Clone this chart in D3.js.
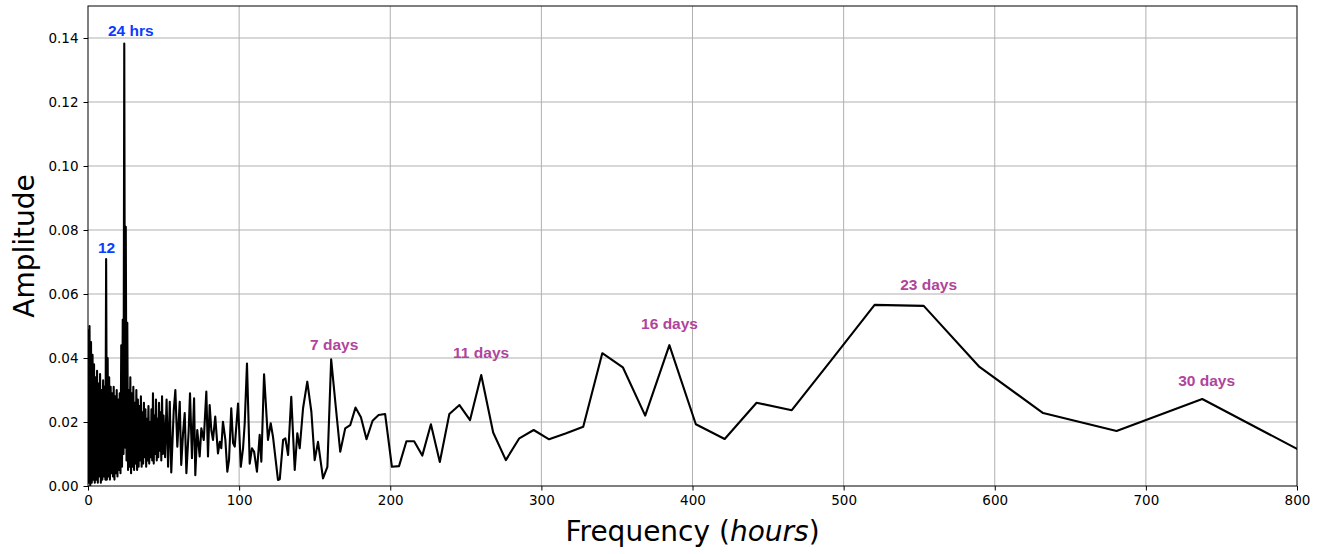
<!DOCTYPE html>
<html lang="en">
<head>
<meta charset="UTF-8">
<title>Amplitude spectrum</title>
<script src="https://d3js.org/d3.v7.min.js"></script>
<style>
  body { margin: 0; background: #fff; }
  svg { display: block; }
  .tick text { font-family: "DejaVu Sans", sans-serif; font-size: 13.5px; fill: #000; }
  .grid line { stroke: #b0b0b0; stroke-width: 1; }
  .axis-title { font-family: "DejaVu Sans", sans-serif; font-size: 28px; fill: #000; }
  .note { font-family: "Liberation Sans", Arial, sans-serif; font-weight: bold; font-size: 15.5px; }
</style>
</head>
<body>
<script>
// dense part of the spectrum (0-50 hrs): amplitudes every half hour
const denseStep = 0.5;
const denseAmp = [
  0.049, 0.001, 0.050, 0.000, 0.045, 0.001, 0.041, 0.002, 0.038, 0.001,
  0.034, 0.002, 0.036, 0.001, 0.032, 0.003, 0.035, 0.001, 0.030, 0.002,
  0.033, 0.003, 0.031, 0.002, 0.0709, 0.002, 0.040, 0.003, 0.034, 0.002,
  0.031, 0.004, 0.029, 0.003, 0.031, 0.002, 0.028, 0.004, 0.030, 0.003,
  0.027, 0.005, 0.029, 0.004, 0.044, 0.006, 0.052, 0.010, 0.1383, 0.012,
  0.081, 0.008, 0.051, 0.005, 0.030, 0.006, 0.034, 0.004, 0.029, 0.006,
  0.031, 0.005, 0.026, 0.007, 0.030, 0.005, 0.027, 0.006, 0.025, 0.008,
  0.028, 0.006, 0.023, 0.007, 0.026, 0.009, 0.024, 0.006, 0.021, 0.008,
  0.025, 0.007, 0.020, 0.009, 0.024, 0.008, 0.029, 0.007, 0.022, 0.010,
  0.027, 0.008, 0.021, 0.009, 0.026, 0.011, 0.023, 0.008, 0.028, 0.010,
  0.022
];

// sparser part (hours, amplitude)
const periods = [
  51.0, 52.0, 53.0, 54.1, 55.1, 56.7, 57.8, 59.1, 60.7, 61.7, 62.9, 64.0, 65.1, 66.6, 67.5,
  68.8, 70.2, 71.0, 72.3, 73.9, 75.0, 76.6, 78.3, 79.4, 80.5, 81.6, 82.7, 84.2, 86.0, 87.2,
  88.2, 89.3, 90.9, 92.2, 93.3, 94.8, 96.0, 97.1, 99.3, 101.1, 102.6, 103.7, 105.2,
  107.0, 108.5, 109.9, 111.8, 113.6, 114.7, 116.5, 119.1, 120.9, 122.4, 125.7, 126.9,
  129.1, 130.6, 132.4, 134.5, 136.8, 138.5, 140.1, 142.3, 145.1, 147.8, 150.0, 152.2,
  155.5, 158.4, 160.9, 163.9, 166.9, 170.2, 173.5, 177.0, 180.6, 184.3, 188.3, 192.3,
  196.6, 201.1, 205.8, 210.7, 215.8, 221.2, 226.9, 232.8, 239.1, 245.8, 252.8, 260.2,
  268.1, 276.5, 285.4, 294.9, 305.1, 316.0, 327.7, 340.3, 353.9, 368.7, 384.7, 402.2,
  421.3, 442.4, 465.7, 491.6, 520.5, 553.0, 589.9, 632.0, 680.6, 737.3, 804.4
];
const amplitudes = [
  0.009, 0.027, 0.006, 0.0263, 0.0042, 0.0233, 0.030, 0.0123, 0.0263, 0.0066, 0.0165, 0.0228, 0.004, 0.017, 0.029,
  0.0087, 0.0274, 0.0034, 0.0175, 0.0092, 0.018, 0.0144, 0.0295, 0.0092, 0.0253, 0.0175, 0.0144, 0.0217, 0.0102, 0.0138,
  0.0118, 0.0201, 0.0144, 0.0045, 0.0081, 0.0243, 0.0134, 0.0123, 0.0258, 0.006, 0.0118, 0.0196, 0.0383,
  0.007, 0.0118, 0.0107, 0.0045, 0.016, 0.0076, 0.0349, 0.0144, 0.0196, 0.0154, 0.0019, 0.0021,
  0.0144, 0.0149, 0.0097, 0.0279, 0.005, 0.0165, 0.0118, 0.0243, 0.0326, 0.0232, 0.0081, 0.0138,
  0.0024, 0.006, 0.0396, 0.025, 0.0107, 0.018, 0.019, 0.0245, 0.0215, 0.0146, 0.0204, 0.0222,
  0.0225, 0.006, 0.0062, 0.014, 0.014, 0.0095, 0.0193, 0.0075, 0.0225, 0.0253, 0.0206, 0.0347,
  0.0167, 0.0081, 0.0149, 0.0175, 0.0146, 0.0164, 0.0185, 0.0415, 0.0371, 0.022, 0.044, 0.0193,
  0.0147, 0.026, 0.0237, 0.0392, 0.0566, 0.0563, 0.0372, 0.0228, 0.0172, 0.0272, 0.0105
];

const xTicks = [0, 100, 200, 300, 400, 500, 600, 700, 800];
const yTicks = [0, 0.02, 0.04, 0.06, 0.08, 0.10, 0.12, 0.14];

// annotations: [text, hours, amplitude, colour]
const notes = [
  ["24 hrs", 13.2, 0.1406, "#0a3cff"],
  ["12", 6.6, 0.0728, "#0a3cff"],
  ["7 days", 146.9, 0.0425, "#b0449c"],
  ["11 days", 241.6, 0.0400, "#b0449c"],
  ["16 days", 366.0, 0.0490, "#b0449c"],
  ["23 days", 537.4, 0.0613, "#b0449c"],
  ["30 days", 721.4, 0.0312, "#b0449c"]
];

const W = 1323, H = 554;
const margin = {top: 6, right: 26, bottom: 68, left: 88};
const w = W - margin.left - margin.right;
const h = H - margin.top - margin.bottom;

const data = denseAmp.map((a, i) => [i * denseStep, a])
  .concat(periods.map((p, i) => [p, amplitudes[i]]));

const svg = d3.select("body").append("svg").attr("width", W).attr("height", H);
const g = svg.append("g").attr("transform", `translate(${margin.left},${margin.top})`);

const x = d3.scaleLinear().domain([0, 800]).range([0, w]);
const y = d3.scaleLinear().domain([0, 0.15]).range([h, 0]);

// grid
g.append("g").attr("class", "grid")
  .selectAll("line").data(xTicks.slice(1, -1)).join("line")
  .attr("x1", d => x(d)).attr("x2", d => x(d)).attr("y1", 0).attr("y2", h);
g.append("g").attr("class", "grid")
  .selectAll("line").data(yTicks.slice(1)).join("line")
  .attr("x1", 0).attr("x2", w).attr("y1", d => y(d)).attr("y2", d => y(d));

svg.append("defs").append("clipPath").attr("id", "clip")
  .append("rect").attr("width", w).attr("height", h);

const line = d3.line().x(d => x(d[0])).y(d => y(d[1]));
g.append("path").datum(data)
  .attr("clip-path", "url(#clip)")
  .attr("fill", "none").attr("stroke", "#000")
  .attr("stroke-width", 2.1).attr("stroke-linejoin", "round")
  .attr("d", line);

// axes
const xAxis = g.append("g").attr("transform", `translate(0,${h})`)
  .call(d3.axisBottom(x).tickValues(xTicks).tickFormat(d3.format("d")).tickSize(4.5).tickPadding(5));
const yAxis = g.append("g")
  .call(d3.axisLeft(y).tickValues(yTicks).tickFormat(d3.format(".2f")).tickSize(4.5).tickPadding(5));
[xAxis, yAxis].forEach(a => a.select(".domain").remove());
g.selectAll(".tick line").attr("stroke", "#000");

g.append("rect").attr("width", w).attr("height", h)
  .attr("fill", "none").attr("stroke", "#000").attr("stroke-width", 1);

// titles
svg.append("text").attr("class", "axis-title")
  .attr("transform", `translate(34,${margin.top + h / 2}) rotate(-90)`)
  .attr("text-anchor", "middle").text("Amplitude");

const xt = svg.append("text").attr("class", "axis-title")
  .attr("x", margin.left + w / 2).attr("y", 541).attr("text-anchor", "middle");
xt.append("tspan").text("Frequency (");
xt.append("tspan").attr("font-style", "italic").text("hours");
xt.append("tspan").text(")");

// annotations
g.selectAll(".note").data(notes).join("text")
  .attr("class", "note")
  .attr("x", d => x(d[1])).attr("y", d => y(d[2]))
  .attr("fill", d => d[3])
  .text(d => d[0]);
</script>
</body>
</html>
